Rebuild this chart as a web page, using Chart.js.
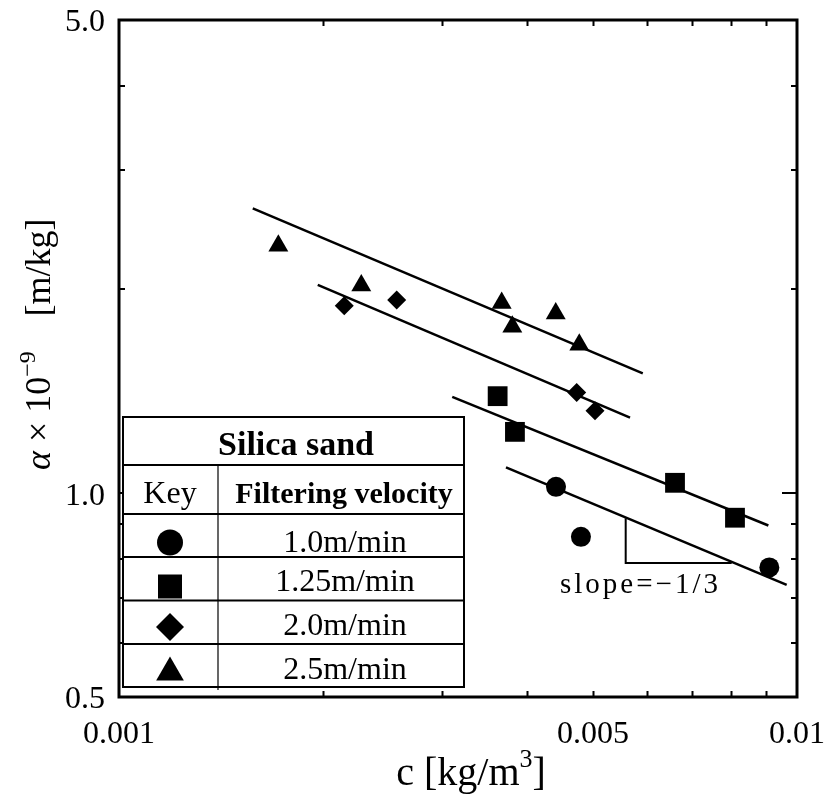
<!DOCTYPE html>
<html><head><meta charset="utf-8">
<script src="https://cdn.jsdelivr.net/npm/chart.js@4.4.0/dist/chart.umd.min.js"></script>
<style>html,body{margin:0;padding:0;background:#fff;overflow:hidden}</style>
</head><body>
<canvas id="c" width="829" height="798"></canvas>
<script>
// ---------- data ----------
const seriesNames = ['1.0m/min', '1.25m/min', '2.0m/min', '2.5m/min'];

const c_1_0   = [0.004411, 0.004801, 0.009103];
const a_1_0   = [1.022, 0.862, 0.777];
const c_1_25  = [0.003618, 0.003837, 0.006608, 0.008101];
const a_1_25  = [1.391, 1.232, 1.036, 0.920];
const c_2_0   = [0.002149, 0.002568, 0.004732, 0.005036];
const a_2_0   = [1.892, 1.929, 1.409, 1.324];
const c_2_5   = [0.001718, 0.002277, 0.003668, 0.003803, 0.004407, 0.004774];
const a_2_5   = [2.320, 2.027, 1.909, 1.762, 1.843, 1.657];

// fitted straight lines (end points)
const fitC_1_0  = [0.003722, 0.009656]; const fitA_1_0  = [1.092, 0.732];
const fitC_1_25 = [0.003101, 0.009073]; const fitA_1_25 = [1.388, 0.896];
const fitC_2_0  = [0.001964, 0.005672]; const fitA_2_0  = [2.031, 1.293];
const fitC_2_5  = [0.001575, 0.005923]; const fitA_2_5  = [2.635, 1.503];

// slope triangle
const slopeC = [0.005589, 0.005589, 0.008011];
const slopeA = [0.918, 0.789, 0.789];
const slopeText = 'slope=\u22121/3';
const slopeTextAt = [0.004471, 0.712];

// axes
const xTickValues = [0.001, 0.002, 0.003, 0.004, 0.005, 0.006, 0.007, 0.008, 0.009, 0.01];
const xTickLabels = ['0.001', '', '', '', '0.005', '', '', '', '', '0.01'];
const yTickValues = [0.5, 0.6, 0.7, 0.8, 0.9, 1.0, 2.0, 3.0, 4.0, 5.0];
const yTickLabels = ['0.5', '', '', '', '', '1.0', '', '', '', '5.0'];
const yMajorTick = 1.0;

const legendTitle = 'Silica sand';
const legendKeyHeader = 'Key';
const legendValueHeader = 'Filtering velocity';

// ---------- helpers ----------
const pts = (xs, ys) => xs.map((x, i) => ({x: x, y: ys[i]}));
const SERIF = '"Liberation Serif", "Times New Roman", Times, serif';

const pointSet = (label, xs, ys, style, r) => ({
  label: label, data: pts(xs, ys), pointStyle: style, pointRadius: r,
  backgroundColor: '#000', borderColor: '#000', borderWidth: 0, showLine: false
});
const lineSet = (xs, ys, w) => ({
  label: '', data: pts(xs, ys), showLine: true, pointRadius: 0,
  borderColor: '#000', borderWidth: w, fill: false, tension: 0
});

function drawMarker(ctx, style, x, y, s) {
  ctx.beginPath();
  if (style === 'circle') {
    ctx.arc(x, y, s, 0, Math.PI * 2);
  } else if (style === 'rect') {
    ctx.rect(x - s, y - s, 2 * s, 2 * s);
  } else if (style === 'rectRot') {
    ctx.moveTo(x, y - s); ctx.lineTo(x + s, y); ctx.lineTo(x, y + s); ctx.lineTo(x - s, y);
    ctx.closePath();
  } else if (style === 'triangle') {
    ctx.moveTo(x, y - s);
    ctx.lineTo(x + s * Math.sin(2 * Math.PI / 3), y + s / 2);
    ctx.lineTo(x - s * Math.sin(2 * Math.PI / 3), y + s / 2);
    ctx.closePath();
  }
  ctx.fill();
}

const zeroPad = s => { s.paddingLeft = 0; s.paddingRight = 0; s.paddingTop = 0; s.paddingBottom = 0; };

const decor = {
  id: 'decor',
  afterDraw(chart) {
    const ctx = chart.ctx, xs = chart.scales.x, ys = chart.scales.y, a = chart.chartArea;
    ctx.save();
    ctx.strokeStyle = '#000'; ctx.fillStyle = '#000';

    // inward tick marks on all four sides
    ctx.lineWidth = 2;
    xTickValues.slice(1, -1).forEach(v => {
      const p = Math.round(xs.getPixelForValue(v)) + 0.5;
      ctx.beginPath();
      ctx.moveTo(p, a.bottom); ctx.lineTo(p, a.bottom - 6);
      ctx.moveTo(p, a.top); ctx.lineTo(p, a.top + 6);
      ctx.stroke();
    });
    yTickValues.slice(1, -1).forEach(v => {
      const p = Math.round(ys.getPixelForValue(v));
      const len = (v === yMajorTick) ? 15 : 6;
      ctx.beginPath();
      ctx.moveTo(a.left, p); ctx.lineTo(a.left + len, p);
      ctx.moveTo(a.right, p); ctx.lineTo(a.right - len, p);
      ctx.stroke();
    });

    // frame
    ctx.lineWidth = 3;
    ctx.strokeRect(a.left, a.top, a.right - a.left, a.bottom - a.top);

    // slope label
    ctx.font = '29px ' + SERIF;
    ctx.letterSpacing = '3px';
    ctx.textAlign = 'left'; ctx.textBaseline = 'alphabetic';
    ctx.fillText(slopeText, xs.getPixelForValue(slopeTextAt[0]), ys.getPixelForValue(slopeTextAt[1]));
    ctx.letterSpacing = '0px';

    // legend table
    const L = 123, R = 464, T = 417, B = 687, CX = 218;
    const rows = [465, 514, 557, 600.5, 644];
    ctx.fillStyle = '#fff';
    ctx.fillRect(L, T, R - L, B - T);
    ctx.fillStyle = '#000';
    ctx.lineWidth = 2;
    ctx.strokeRect(L, T, R - L, B - T);
    rows.forEach(yv => { ctx.beginPath(); ctx.moveTo(L, yv); ctx.lineTo(R, yv); ctx.stroke(); });
    ctx.lineWidth = 1.2;
    ctx.beginPath(); ctx.moveTo(CX, rows[0]); ctx.lineTo(CX, B + 3); ctx.stroke();

    ctx.textAlign = 'center'; ctx.textBaseline = 'alphabetic';
    ctx.font = 'bold 34px ' + SERIF;
    ctx.fillText(legendTitle, 296, 455);
    ctx.font = '32px ' + SERIF;
    ctx.fillText(legendKeyHeader, 170, 503);
    ctx.font = 'bold 30px ' + SERIF;
    ctx.fillText(legendValueHeader, 344, 503);

    const styles = ['circle', 'rect', 'rectRot', 'triangle'];
    const sizes = [13, 12, 14, 16];
    const markY = [542.5, 586.5, 627, 672.5];
    const textY = [552, 591, 635, 679];
    ctx.font = '32px ' + SERIF;
    seriesNames.forEach((n, i) => {
      drawMarker(ctx, styles[i], 170, markY[i], sizes[i]);
      ctx.fillText(n, 345, textY[i]);
    });

    // x axis title: c [kg/m^3]
    ctx.textAlign = 'left';
    const fx = '40px ' + SERIF, fs = '26px ' + SERIF;
    ctx.font = fx; const w1 = ctx.measureText('c [kg/m').width;
    ctx.font = fs; const w2 = ctx.measureText('3').width;
    ctx.font = fx; const w3 = ctx.measureText(']').width;
    let sx = 471 - (w1 + w2 + w3) / 2;
    const base = 785;
    ctx.font = fx; ctx.fillText('c [kg/m', sx, base); sx += w1;
    ctx.font = fs; ctx.fillText('3', sx, base - 18); sx += w2;
    ctx.font = fx; ctx.fillText(']', sx, base);

    // y axis title: α × 10^-9 [m/kg]
    ctx.save();
    ctx.translate(50, 470);
    ctx.rotate(-Math.PI / 2);
    let tx = 0;
    const fy = '36px ' + SERIF, fyi = 'italic 36px ' + SERIF, fys = '24px ' + SERIF;
    ctx.font = fyi; ctx.fillText('\u03b1', tx, 0); tx += ctx.measureText('\u03b1').width;
    ctx.font = fy; ctx.fillText(' \u00d7 10', tx, 0); tx += ctx.measureText(' \u00d7 10').width;
    ctx.font = fys; ctx.fillText('\u22129', tx, -15); tx += ctx.measureText('\u22129').width;
    ctx.font = fy; tx = 470 - 316.5;
    ctx.fillText('[m/kg]', tx, 0);
    ctx.restore();

    ctx.restore();
  }
};

new Chart(document.getElementById('c'), {
  type: 'scatter',
  data: {
    datasets: [
      pointSet(seriesNames[0], c_1_0, a_1_0, 'circle', 10),
      pointSet(seriesNames[1], c_1_25, a_1_25, 'rect', 14),
      pointSet(seriesNames[2], c_2_0, a_2_0, 'rectRot', 9.5),
      pointSet(seriesNames[3], c_2_5, a_2_5, 'triangle', 11.5),
      lineSet(fitC_1_0, fitA_1_0, 2.5),
      lineSet(fitC_1_25, fitA_1_25, 2.5),
      lineSet(fitC_2_0, fitA_2_0, 2.5),
      lineSet(fitC_2_5, fitA_2_5, 2.5),
      lineSet(slopeC, slopeA, 2)
    ]
  },
  options: {
    responsive: false,
    animation: false,
    devicePixelRatio: 1,
    layout: {padding: {left: 0, top: 20, right: 32, bottom: 0}},
    plugins: {legend: {display: false}, tooltip: {enabled: false}},
    scales: {
      x: {
        type: 'logarithmic', position: 'bottom', min: 0.001, max: 0.01,
        grid: {display: false, drawTicks: false},
        border: {display: false},
        afterBuildTicks: s => { s.ticks = xTickValues.map(v => ({value: v})); },
        afterFit: s => { s.height = 101; zeroPad(s); },
        ticks: {
          autoSkip: false, maxRotation: 0, minRotation: 0, padding: 18,
          color: '#000', font: {family: SERIF, size: 32},
          callback: (v, i) => xTickLabels[i]
        },
        title: {display: false}
      },
      y: {
        type: 'logarithmic', position: 'left', min: 0.5, max: 5,
        grid: {display: false, drawTicks: false},
        border: {display: false},
        afterBuildTicks: s => { s.ticks = yTickValues.map(v => ({value: v})); },
        afterFit: s => { s.width = 119; zeroPad(s); },
        ticks: {
          autoSkip: false, padding: 14, labelOffset: 3,
          color: '#000', font: {family: SERIF, size: 32},
          callback: (v, i) => yTickLabels[i]
        },
        title: {display: false}
      }
    }
  },
  plugins: [decor]
});
</script>
</body></html>
